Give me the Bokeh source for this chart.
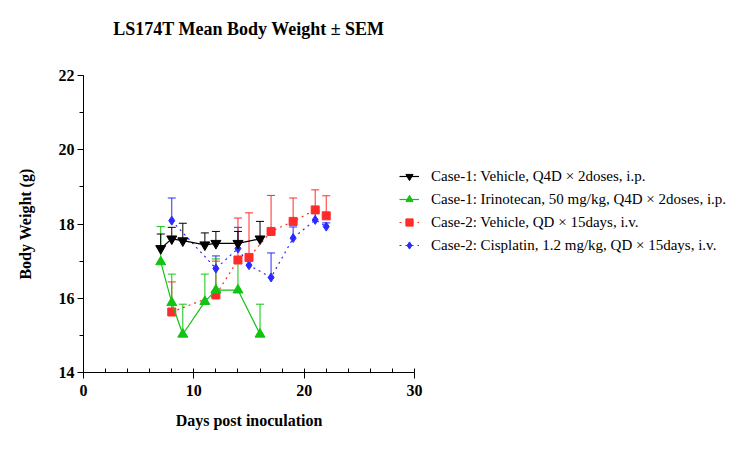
from bokeh.plotting import figure
from bokeh.models import (ColumnDataSource, Whisker, TeeHead, Legend, LegendItem,
                          FixedTicker, Range1d, LinearAxis)
from bokeh.embed import file_html
from bokeh.resources import INLINE

# Mean body weight (g) and SEM per group, by day post inoculation
veh1_days = [7, 8, 9, 11, 12, 14, 16]
veh1_mean = [17.34, 17.60, 17.55, 17.44, 17.48, 17.48, 17.60]
veh1_sem = [0.39, 0.31, 0.47, 0.32, 0.32, 0.32, 0.47]

iri_days = [7, 8, 9, 11, 12, 14, 16]
iri_mean = [16.98, 15.88, 15.03, 15.91, 16.22, 16.22, 15.03]
iri_sem = [0.95, 0.77, 0.81, 0.74, 0.84, 0.90, 0.81]

veh2_days = [8, 12, 14, 15, 17, 19, 21, 22]
veh2_mean = [15.63, 16.09, 17.03, 17.10, 17.80, 18.07, 18.38, 18.22]
veh2_sem = [0.81, 0.91, 1.13, 1.20, 0.97, 0.63, 0.54, 0.54]

cis_days = [8, 12, 14, 15, 17, 19, 21, 22]
cis_mean = [18.09, 16.80, 17.34, 16.89, 16.56, 17.62, 18.11, 17.93]
cis_sem = [0.61, 0.34, 0.57, 0.20, 0.66, 0.30, 0.25, 0.10]

x_ticks = [0, 10, 20, 30]
y_ticks = [14, 16, 18, 20, 22]

labels = [
    "Case-1: Vehicle, Q4D \u00d7 2doses, i.p.",
    "Case-1: Irinotecan, 50 mg/kg, Q4D \u00d7 2doses, i.p.",
    "Case-2: Vehicle, QD \u00d7 15days, i.v.",
    "Case-2: Cisplatin, 1.2 mg/kg, QD \u00d7 15days, i.v.",
]
chart_title = "LS174T Mean Body Weight \u00b1 SEM"

SERIF = "Liberation Serif"

p = figure(frame_width=331, frame_height=297, output_backend="svg",
           toolbar_location=None,
           x_range=Range1d(0, 30), y_range=Range1d(14, 22),
           min_border_left=83, min_border_right=10,
           min_border_top=75, min_border_bottom=92)
p.outline_line_color = None
p.grid.visible = False
p.background_fill_color = "white"
p.border_fill_color = "white"

bottom_axis = p.below[0]
left_axis = p.left[0]

# chart heading: a bare, tickless axis above the frame carries it as its label
top_axis = LinearAxis(ticker=FixedTicker(ticks=[], minor_ticks=[]),
                      axis_line_color=None,
                      major_tick_line_color=None, minor_tick_line_color=None,
                      axis_label=chart_title, axis_label_standoff=37,
                      axis_label_text_font=SERIF, axis_label_text_font_size="18px",
                      axis_label_text_font_style="bold",
                      axis_label_text_color="black")
p.add_layout(top_axis, "above")

# axes
bottom_axis.ticker = FixedTicker(ticks=x_ticks, minor_ticks=list(range(0, 31, 2)))
left_axis.ticker = FixedTicker(ticks=y_ticks, minor_ticks=list(range(14, 23)))
for ax in (bottom_axis, left_axis):
    ax.axis_line_color = "black"
    ax.axis_line_width = 1
    ax.major_tick_line_color = "black"
    ax.minor_tick_line_color = "black"
    ax.major_tick_in = 0
    ax.major_tick_out = 6
    ax.major_label_text_font = SERIF
    ax.major_label_text_font_size = "16px"
    ax.major_label_text_font_style = "bold"
    ax.major_label_text_color = "black"
    ax.axis_label_text_font = SERIF
    ax.axis_label_text_font_size = "16px"
    ax.axis_label_text_font_style = "bold"
    ax.axis_label_text_color = "black"

bottom_axis.minor_tick_in = 4
bottom_axis.minor_tick_out = 0
left_axis.minor_tick_in = 0
left_axis.minor_tick_out = 4
bottom_axis.major_label_standoff = 6
left_axis.major_label_standoff = 3
bottom_axis.axis_label = "Days post inoculation"
left_axis.axis_label = "Body Weight (g)"
bottom_axis.axis_label_standoff = 13
left_axis.axis_label_standoff = 22

series = [
    (cis_days, cis_mean, cis_sem, "#2b2bff", "diamond", 9, "dotted", labels[3]),
    (veh2_days, veh2_mean, veh2_sem, "#ff2b2b", "square", 8, "dotted", labels[2]),
    (iri_days, iri_mean, iri_sem, "#12c412", "triangle", 10, "solid", labels[1]),
    (veh1_days, veh1_mean, veh1_sem, "#000000", "inverted_triangle", 10, "solid", labels[0]),
]

items = {}
for days, mean, sem, color, marker, size, dash, label in series:
    upper = [m + s for m, s in zip(mean, sem)]
    src = ColumnDataSource(dict(x=days, y=mean, upper=upper))
    w = Whisker(source=src, base="x", upper="upper", lower="y",
                line_color=color, line_width=1,
                upper_head=TeeHead(size=8, line_color=color, line_width=1),
                lower_head=None)
    p.add_layout(w)
    ln = p.line("x", "y", source=src, line_color=color, line_width=1.2,
                line_dash=dash)
    sc = p.scatter("x", "y", source=src, marker=marker, size=size,
                   fill_color=color, line_color=color)
    items[label] = [ln, sc]

# legend sits in the right-hand panel beside the plot frame
legend = Legend(items=[LegendItem(label=l, renderers=items[l]) for l in labels],
                location=(-15, 118), padding=0, margin=0, spacing=5,
                glyph_width=20, glyph_height=18, label_standoff=12,
                label_text_font=SERIF, label_text_font_size="15px",
                label_text_color="black", border_line_color=None,
                background_fill_alpha=0)
p.add_layout(legend, "right")

open("out.html", "w").write(file_html(p, INLINE))
